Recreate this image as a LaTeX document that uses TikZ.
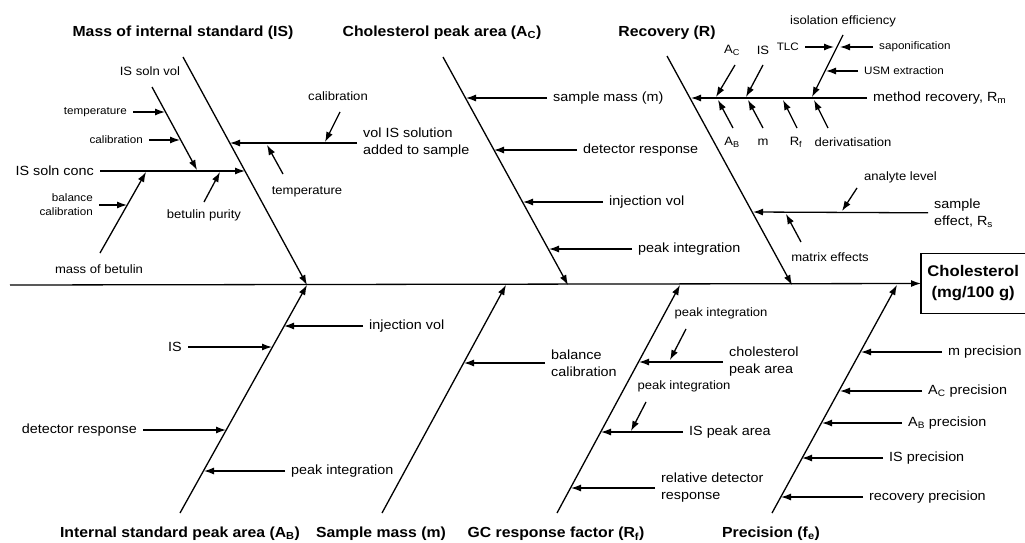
\documentclass[tikz,border=0pt]{standalone}
\usepackage{fontspec}
\setmainfont{Liberation Sans}[FakeStretch=1.08]
\usetikzlibrary{arrows.meta}
\newcommand\fT{\fontsize{14.6}{17}\selectfont\bfseries}
\newcommand\fM{\fontsize{13.3}{17}\selectfont}
\newcommand\fMS{\fontsize{12.1}{15}\selectfont}
\newcommand\fS{\fontsize{10.8}{14}\selectfont}
\begin{document}
\begin{tikzpicture}[x=1pt,y=-1pt,
  arr/.style={line width=1.3pt,-{Latex[length=10pt,width=7pt]}},
  lab/.style={inner xsep=6pt,inner ysep=1pt},
  ttl/.style={inner sep=0pt,font=\fT},
  M/.style={lab,font=\fM},
  MS/.style={lab,font=\fMS},
  S/.style={lab,font=\fS},
  resbox/.style={font=\fontsize{15.4}{21}\selectfont\bfseries,align=center,minimum width=104pt,minimum height=59pt,inner sep=0pt}
]
\useasboundingbox (0,0) rectangle (1025,543);

% result box (right side cut off by the page edge) and spine
\node[resbox,anchor=west] (res) at (921,283.5) {Cholesterol\\(mg/100 g)};
\draw[line width=1.3pt] (res.north east) -- (res.north west) -- (res.south west) -- (res.south east);
\coordinate (sp0) at (10,285);
\draw[arr] (sp0) -- (res.west);

% main bones
\coordinate (b1t) at (183,57);  \coordinate (b1b) at (307,285);
\coordinate (b2t) at (443,57);  \coordinate (b2b) at (568,285);
\coordinate (b3t) at (667,56);  \coordinate (b3b) at (792,285);
\coordinate (b4b) at (180,513); \coordinate (b4t) at (307,285);
\coordinate (b5b) at (382,513); \coordinate (b5t) at (506,285);
\coordinate (b6b) at (557,513); \coordinate (b6t) at (680,285);
\coordinate (b7b) at (772,513); \coordinate (b7t) at (897,285);
\foreach \a/\b in {b1t/b1b,b2t/b2b,b3t/b3b,b4b/b4t,b5b/b5t,b6b/b6t,b7b/b7t}
  \draw[arr] (\a) -- (\b);

% titles
\node[ttl] (t1) at (183,33) {Mass of internal standard (IS)};
\node[ttl] (t2) at (442,33) {Cholesterol peak area (A\textsubscript{C})};
\node[ttl] (t3) at (667,33) {Recovery (R)};
\node[ttl] (t4) at (180,534) {Internal standard peak area (A\textsubscript{B})};
\node[ttl] (t5) at (381,534) {Sample mass (m)};
\node[ttl] (t6) at (556,534) {GC response factor (R\textsubscript{f})};
\node[ttl] (t7) at (771,534) {Precision (f\textsubscript{e})};

% ---- bone 1: mass of internal standard
\node[M,anchor=east] (isc) at (100,171) {IS soln conc};
\coordinate (isc-t) at (245,171);
\draw[arr] (isc) -- (isc-t);
\node[MS] (isvl) at (150,71) {IS soln vol};
\coordinate (isv-s) at (152,87); \coordinate (isv-e) at (197,170);
\draw[arr] (isv-s) -- (isv-e);
\node[S,anchor=east] (temp1) at (133,112) {temperature};
\coordinate (temp1-t) at (165,112);
\draw[arr] (temp1) -- (temp1-t);
\node[S,anchor=east] (cal1) at (149,140) {calibration};
\coordinate (cal1-t) at (180,140);
\draw[arr] (cal1) -- (cal1-t);
\node[MS] (mbl) at (99,269) {mass of betulin};
\coordinate (mb-s) at (100,253); \coordinate (mb-e) at (146,172);
\draw[arr] (mb-s) -- (mb-e);
\node[S,anchor=east,align=right] (balc1) at (99,205) {balance\\calibration};
\coordinate (balc1-t) at (127,205);
\draw[arr] (balc1) -- (balc1-t);
\node[MS] (bpl) at (204,215) {betulin purity};
\coordinate (bp-s) at (204,202); \coordinate (bp-e) at (220,172);
\draw[arr] (bp-s) -- (bp-e);
\node[M,anchor=west,align=left] (vis) at (357,143) {vol IS solution\\added to sample};
\coordinate (vis-t) at (230,143);
\draw[arr] (vis) -- (vis-t);
\node[MS] (cal2) at (338,96) {calibration};
\coordinate (cal2-s) at (340,112); \coordinate (cal2-e) at (325,142);
\draw[arr] (cal2-s) -- (cal2-e);
\node[MS] (temp2) at (307,192) {temperature};
\coordinate (temp2-s) at (283,174); \coordinate (temp2-e) at (267,145);
\draw[arr] (temp2-s) -- (temp2-e);

% ---- bone 2: cholesterol peak area
\node[M,anchor=west] (smm) at (547,98) {sample mass (m)};
\draw[arr] (smm) -- (466,98) coordinate (smm-t);
\node[M,anchor=west] (dr2) at (577,150) {detector response};
\draw[arr] (dr2) -- (494,150) coordinate (dr2-t);
\node[M,anchor=west] (iv2) at (603,202) {injection vol};
\draw[arr] (iv2) -- (523,202) coordinate (iv2-t);
\node[M,anchor=west] (pi2) at (632,249) {peak integration};
\draw[arr] (pi2) -- (549,249) coordinate (pi2-t);

% ---- bone 3: recovery
\node[M,anchor=west] (mr) at (867,98) {method recovery, R\textsubscript{m}};
\coordinate (mr-t) at (691,98);
\draw[arr] (mr) -- (mr-t);
\node[MS] (lac) at (732,50) {A\textsubscript{C}};
\draw[arr] (735,65) coordinate (ac-s) -- (716,97) coordinate (ac-e);
\node[MS] (lis) at (763,50) {IS};
\draw[arr] (763,65) coordinate (is-s) -- (746,97) coordinate (is-e);
\node[MS] (lab) at (732,142) {A\textsubscript{B}};
\draw[arr] (733,128) coordinate (ab-s) -- (718,100) coordinate (ab-e);
\node[MS] (lm) at (763,142) {m};
\draw[arr] (763,128) coordinate (m-s) -- (748,100) coordinate (m-e);
\node[MS] (lrf) at (796,142) {R\textsubscript{f}};
\draw[arr] (797,128) coordinate (rf-s) -- (783,100) coordinate (rf-e);
\node[MS] (lder) at (853,142) {derivatisation};
\draw[arr] (828,128) coordinate (der-s) -- (814,100) coordinate (der-e);
\node[MS] (lie) at (843,21) {isolation efficiency};
\coordinate (ie-s) at (843,35); \coordinate (ie-e) at (812,97);
\draw[arr] (ie-s) -- (ie-e);
\node[S,anchor=east] (tlc) at (805,47) {TLC};
\draw[arr] (tlc) -- (834,47) coordinate (tlc-t);
\node[S,anchor=west] (sap) at (873,47) {saponification};
\draw[arr] (sap) -- (840,47) coordinate (sap-t);
\node[S,anchor=west] (usm) at (858,71) {USM extraction};
\draw[arr] (usm) -- (826,71) coordinate (usm-t);
\node[M,anchor=west,align=left] (se) at (928,213) {sample\\effect, R\textsubscript{s}};
\draw[arr] (se) -- (753,212) coordinate (se-t);
\node[MS,anchor=west] (al) at (858,177) {analyte level};
\draw[arr] (857,188) coordinate (al-s) -- (842,211) coordinate (al-e);
\node[MS] (me) at (830,257) {matrix effects};
\draw[arr] (801,242) coordinate (me-s) -- (786,214) coordinate (me-e);

% ---- bone 4: internal standard peak area
\node[M,anchor=west] (iv4) at (363,326) {injection vol};
\draw[arr] (iv4) -- (284,326) coordinate (iv4-t);
\node[M,anchor=east] (is4) at (188,347) {IS};
\draw[arr] (is4) -- (272,347) coordinate (is4-t);
\node[M,anchor=east] (dr4) at (143,430) {detector response};
\draw[arr] (dr4) -- (226,430) coordinate (dr4-t);
\node[M,anchor=west] (pi4) at (285,471) {peak integration};
\draw[arr] (pi4) -- (204,471) coordinate (pi4-t);

% ---- bone 5: sample mass
\node[M,anchor=west,align=left] (bc5) at (545,363) {balance\\calibration};
\draw[arr] (bc5) -- (464,363) coordinate (bc5-t);

% ---- bone 6: GC response factor
\node[M,anchor=west,align=left] (cpa) at (723,362) {cholesterol\\peak area};
\draw[arr] (cpa) -- (639,362) coordinate (cpa-t);
\node[MS] (pi6a) at (721,313) {peak integration};
\draw[arr] (686,329) coordinate (pi6a-s) -- (670,360) coordinate (pi6a-e);
\node[M,anchor=west] (ispa) at (683,432) {IS peak area};
\draw[arr] (ispa) -- (601,432) coordinate (ispa-t);
\node[MS] (pi6b) at (684,386) {peak integration};
\draw[arr] (646,402) coordinate (pi6b-s) -- (631,431) coordinate (pi6b-e);
\node[M,anchor=west,align=left] (rdr) at (655,488) {relative detector\\response};
\draw[arr] (rdr) -- (571,488) coordinate (rdr-t);

% ---- bone 7: precision
\node[M,anchor=west] (mp) at (942,352) {m precision};
\draw[arr] (mp) -- (861,352) coordinate (mp-t);
\node[M,anchor=west] (acp) at (922,391) {A\textsubscript{C} precision};
\draw[arr] (acp) -- (840,391) coordinate (acp-t);
\node[M,anchor=west] (abp) at (902,423) {A\textsubscript{B} precision};
\draw[arr] (abp) -- (822,423) coordinate (abp-t);
\node[M,anchor=west] (isp) at (883,458) {IS precision};
\draw[arr] (isp) -- (802,458) coordinate (isp-t);
\node[M,anchor=west] (rp) at (863,497) {recovery precision};
\draw[arr] (rp) -- (781,497) coordinate (rp-t);
\end{tikzpicture}
\end{document}
